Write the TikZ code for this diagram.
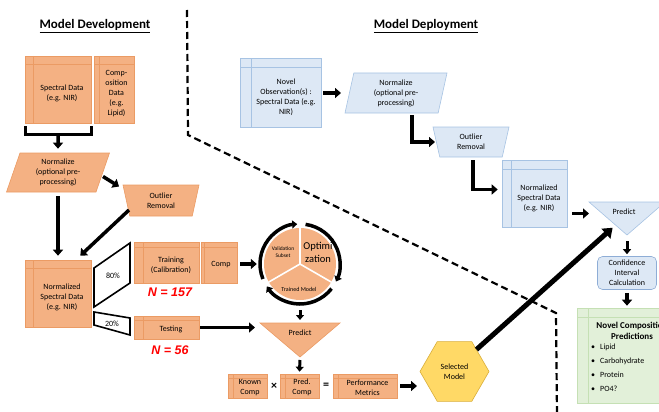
\documentclass[tikz,border=0pt]{standalone}
\usepackage{fontspec}
\setmainfont{Carlito}
\newfontfamily\arialfont{Liberation Sans}
\usetikzlibrary{arrows.meta,shapes.geometric,calc}
\definecolor{orfill}{HTML}{F4B183}
\definecolor{orline}{HTML}{EB9B64}
\definecolor{blfill}{HTML}{DDE8F5}
\definecolor{blline}{HTML}{A7C3E3}
\definecolor{bldark}{HTML}{8EADD6}
\definecolor{grfill}{HTML}{E2F0D9}
\definecolor{grline}{HTML}{C5E0B4}
\definecolor{yelfill}{HTML}{FFD966}
\definecolor{yelline}{HTML}{D9AE3A}
\begin{document}
\begin{tikzpicture}[x=1pt,y=-1pt,font=\fontsize{8}{10}\selectfont,
  every node/.append style={align=center,inner sep=1pt},
  store/.style n args={3}{draw=#1line,fill=#1fill,line width=0.6pt,inner sep=0pt,
    path picture={\draw[#1line,line width=0.6pt]
      ([xshift=#2]path picture bounding box.north west) -- ([xshift=#2]path picture bounding box.south west)
      ([yshift=-#3]path picture bounding box.north west) -- ([yshift=-#3]path picture bounding box.north east);}},
  pshape/.style={draw=#1line,fill=#1fill,line width=0.6pt},
  para/.style={trapezium,trapezium stretches body,pshape=#1},
  split/.style={draw=black,fill=white,line width=1.6pt,line join=miter},
  blk/.style={line width=3.5pt,line join=miter,-{Triangle[width=10pt,length=6pt]}},
  sblk/.style={line width=3pt,-{Triangle[width=8pt,length=5pt]}},
  bigblk/.style={line width=5pt,-{Triangle[width=13pt,length=9pt]}},
  ring/.style={line width=3.5pt,-{Triangle[width=8pt,length=5pt]}},
  ttl/.style={font=\fontsize{13}{15}\selectfont\bfseries},
  ntext/.style={text=red,font=\arialfont\bfseries\itshape\fontsize{12.5}{14}\selectfont}]
\useasboundingbox (0,0) rectangle (659,412);
\clip (0,0) rectangle (659,412);

\node[ttl] (devt) at (95,26) {\underline{Model Development}};
\node[ttl] (dept) at (426,26) {\underline{Model Deployment}};
\draw[dash pattern=on 7pt off 4pt,line width=2.2pt] (187,10) -- (188,135) -- (556,313) -- (557,416);

\node[store={or}{8pt}{8pt},minimum width=66pt,minimum height=67pt] (spec) at (58,89.5) {};
\node (spectxt) at (62,93.5) {Spectral Data\\(e.g. NIR)};
\node[store={or}{5pt}{8pt},minimum width=40pt,minimum height=67pt] (comp) at (114,89.5) {};
\node (comptxt) at (116.5,94) {Comp-\\osition\\Data\\(e.g.\\Lipid)};
\draw[line width=2.5pt] ([xshift=1pt,yshift=-3pt]spec.south west) -- ++(0,8) -| ([yshift=-3pt]spec.south east);
\node[para=or,trapezium left angle=65,trapezium right angle=115,minimum width=103pt,minimum height=39pt] (norm) at (58,172.5) {Normalize\\(optional pre-\\processing)};
\draw[blk,shorten >=4pt] ([yshift=-11pt]spec.south) -- (norm.north);
\node[para=or,trapezium left angle=69,trapezium right angle=69,shape border rotate=180,minimum width=76pt,minimum height=31pt] (outl) at (161,200.5) {Outlier\\Removal};
\draw[blk] ([xshift=45pt,yshift=-4pt]norm.center) -- ([xshift=-42pt,yshift=14pt]outl.center);
\node[store={or}{8pt}{8pt},minimum width=66pt,minimum height=67pt] (ndata) at (58,293.5) {};
\node (ndatatxt) at (62,297) {Normalized\\Spectral Data\\(e.g. NIR)};
\draw[blk] ([yshift=-23.5pt]norm.center) -- ([yshift=4pt]ndata.north);
\draw[blk] ([xshift=-32pt,yshift=-9.5pt]outl.center) -- ([xshift=-11pt,yshift=4pt]ndata.north east);

\draw[split] (94,268) -- (130,243) -- (130,283) -- (94,307) -- cycle;
\node (p80) at (113,276) {80\%};
\draw[split] (94,312) -- (130,318) -- (130,335) -- (94,325) -- cycle;
\node (p20) at (112,323.5) {20\%};

\node[store={or}{9pt}{5pt},minimum width=65pt,minimum height=41pt] (train) at (166.5,262.5) {};
\node (traintxt) at (171,265) {Training\\(Calibration)};
\node[store={or}{3pt}{5pt},minimum width=36pt,minimum height=41pt] (tcomp) at (219,262.5) {};
\node (tcomptxt) at (221,265) {Comp};
\node[ntext] (n157) at (170,292) {N = 157};
\node[store={or}{9pt}{4pt},minimum width=65pt,minimum height=23pt] (test) at (166.5,327.5) {};
\node (testtxt) at (171,329.5) {Testing};
\node[ntext] (n56) at (170,350) {N = 56};

\node[circle,fill=orfill,minimum size=72pt] (cyc) at (300,264) {};
\foreach \a in {90,-30,210}
  \draw[white,line width=1.6pt] (cyc.center) -- (cyc.\a);
\foreach \a in {202,82,-38}
  \draw[ring] (cyc.center) ++(\a:40pt) arc[start angle=\a,delta angle=-108,radius=40pt];
\node[font=\fontsize{5.5}{6.5}\selectfont] (val) at (283,252) {Validation\\Subset};
\node[font=\fontsize{10.5}{13}\selectfont] (opt) at (318,252) {Optimi\\zation};
\node[font=\fontsize{6}{7}\selectfont] (trm) at (299,289) {Trained Model};
\draw[blk,shorten <=3pt,shorten >=7pt] (cyc.west -| tcomp.east) -- (cyc.west);

\draw[pshape=or] (260,323) coordinate (pl) -- (340,323) coordinate (pr) -- (300,357) coordinate (pa) -- cycle;
\node (pred) at (300,333) {Predict};
\draw[sblk,shorten >=3pt] ([yshift=-10pt]cyc.south) -- (pl -| cyc.south);
\draw[blk,shorten <=1pt,shorten >=5pt] (test.east) -- (test.east -| pl);

\node[store={or}{5pt}{4pt},minimum width=39pt,minimum height=24pt] (known) at (247.5,386) {};
\node (knowntxt) at (250,387.5) {Known\\Comp};
\node[font=\bfseries\fontsize{12}{12}\selectfont] (tms) at (274,386) {×};
\node[store={or}{5pt}{4pt},minimum width=39pt,minimum height=24pt] (predc) at (299.5,386) {};
\node (predctxt) at (302,387.5) {Pred.\\Comp};
\node[font=\bfseries\fontsize{12}{12}\selectfont] (eq) at (326,386) {=};
\node[store={or}{5pt}{4pt},minimum width=64pt,minimum height=24pt] (perf) at (365,386) {};
\node (perftxt) at (367.5,387.5) {Performance\\Metrics};
\draw[sblk,shorten <=3pt,shorten >=2pt] (pa) -- (predc.north);

\coordinate (selc) at (454.5,371.5);
\draw[pshape=yel] ([shift={(0:34.5pt)}]selc) \foreach \a in {60,120,...,300} {-- ([shift={(\a:34.5pt)}]selc)} -- cycle;
\coordinate (selw) at ([xshift=-34.5pt]selc);
\node (sel) at (selc) {Selected\\Model};
\draw[blk,shorten <=3pt,shorten >=3pt] (perf.east) -- (perf.east -| selw);

\node[store={bl}{11pt}{9pt},minimum width=81pt,minimum height=69pt] (novel) at (280.5,93) {};
\node (noveltxt) at (286,97) {Novel\\Observation(s) :\\Spectral Data (e.g.\\NIR)};
\node[para=bl,trapezium left angle=73,trapezium right angle=107,minimum width=102pt,minimum height=40pt] (dnorm) at (396,93) {Normalize\\(optional pre-\\processing)};
\draw[blk,shorten <=2pt] (novel.east) -- ([xshift=-55pt]dnorm.center);
\node[para=bl,trapezium left angle=69,trapezium right angle=69,shape border rotate=180,minimum width=76pt,minimum height=30pt] (doutl) at (471,142) {Outlier\\Removal};
\draw[blk] ([xshift=16pt,yshift=-22pt]dnorm.center) |- ([xshift=-36pt]doutl.center);
\node[store={bl}{9pt}{9pt},minimum width=65pt,minimum height=67pt] (dnd) at (534.5,193.5) {};
\node (dndtxt) at (539,198) {Normalized\\Spectral Data\\(e.g. NIR)};
\draw[blk,shorten >=4pt] ([xshift=2pt,yshift=-18pt]doutl.center) |- ([yshift=4pt]dnd.west);

\draw[pshape=bl] (589,202) coordinate (dpl) -- (665,202) coordinate (dpr) -- (627,235) coordinate (dpa) -- cycle;
\node (dpred) at (624,212) {Predict};
\draw[blk,shorten <=5pt] ([yshift=-20pt]dnd.east) -- ([yshift=-20pt]dnd.east -| dpl);
\node[draw=bldark,fill=blfill,rounded corners=5pt,line width=0.6pt,minimum width=59pt,minimum height=33pt,inner sep=0pt] (conf) at (627,273) {Confidence\\Interval\\Calculation};
\draw[sblk,shorten <=6pt,shorten >=2pt] (dpa) -- (conf.north);
\node[store={gr}{11pt}{9pt},minimum width=100pt,minimum height=95pt] (novp) at (627,355.5) {};
\node[font=\bfseries\fontsize{9}{11}\selectfont] (novptitle) at (632,331) {Novel Composition\\Predictions};
\node[anchor=north west,align=left,font=\fontsize{8}{14}\selectfont] (novplist) at (590,343) {\textbullet\hspace{5pt}Lipid\\\textbullet\hspace{5pt}Carbohydrate\\\textbullet\hspace{5pt}Protein\\\textbullet\hspace{5pt}PO4?};
\draw[blk,shorten <=3pt,shorten >=2pt] (conf.south) -- (novp.north);

\draw[bigblk,shorten >=4pt] ([xshift=22pt,yshift=22pt]selc) -- ($(dpl)!0.7!(dpa)$);
\end{tikzpicture}
\end{document}
